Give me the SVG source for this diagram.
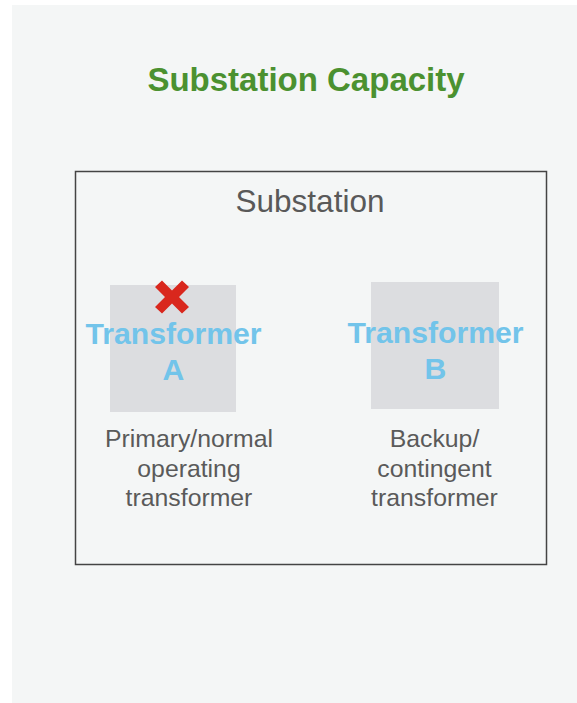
<svg xmlns="http://www.w3.org/2000/svg" width="577" height="703" viewBox="0 0 577 703">
  <style>
    .title { font-family: "Liberation Sans", Arial, sans-serif; font-weight: bold; font-size: 33px; fill: #4b9130; text-anchor: middle; }
    .frame-label { font-family: "Liberation Sans", Arial, sans-serif; font-size: 31.5px; fill: #595959; text-anchor: middle; }
    .unit { fill: #dcdde0; }
    .unit-label { font-family: "Liberation Sans", Arial, sans-serif; font-weight: bold; font-size: 30.2px; fill: #72c4ea; text-anchor: middle; }
    .desc { font-family: "Liberation Sans", Arial, sans-serif; font-size: 24.8px; fill: #5a5a5a; text-anchor: middle; }
    .fail { fill: #d9271d; }
  </style>

  <!-- page background -->
  <rect x="0" y="0" width="577" height="703" fill="#ffffff"/>
  <rect x="12" y="5" width="565" height="698" fill="#f4f6f6"/>

  <text class="title" x="306" y="91">Substation Capacity</text>

  <!-- substation enclosure -->
  <g id="substation">
    <rect x="75.5" y="171.5" width="471" height="393" fill="none" stroke="#444444" stroke-width="1.5"/>
    <text class="frame-label" x="310" y="212">Substation</text>
  </g>

  <!-- transformer A (out of service) -->
  <g id="transformer-a">
    <rect class="unit" x="110" y="285" width="126" height="127"/>
    <polygon class="fail" points="155,287 162,280.5 172,290.5 182,280.5 189,287 179,297 189,307 182,313.5 172,303.5 162,313.5 155,307 165,297"/>
    <text class="unit-label" x="173.5" y="344">Transformer</text>
    <text class="unit-label" x="173.5" y="380">A</text>
    <text class="desc" x="189" y="447">Primary/normal</text>
    <text class="desc" x="189" y="476.5">operating</text>
    <text class="desc" x="189" y="506">transformer</text>
  </g>

  <!-- transformer B (standby) -->
  <g id="transformer-b">
    <rect class="unit" x="371" y="282" width="128" height="127"/>
    <text class="unit-label" x="435.5" y="343">Transformer</text>
    <text class="unit-label" x="435.5" y="379">B</text>
    <text class="desc" x="434.5" y="447">Backup/</text>
    <text class="desc" x="434.5" y="476.5">contingent</text>
    <text class="desc" x="434.5" y="506">transformer</text>
  </g>

  <g id="connectors"/>
</svg>
